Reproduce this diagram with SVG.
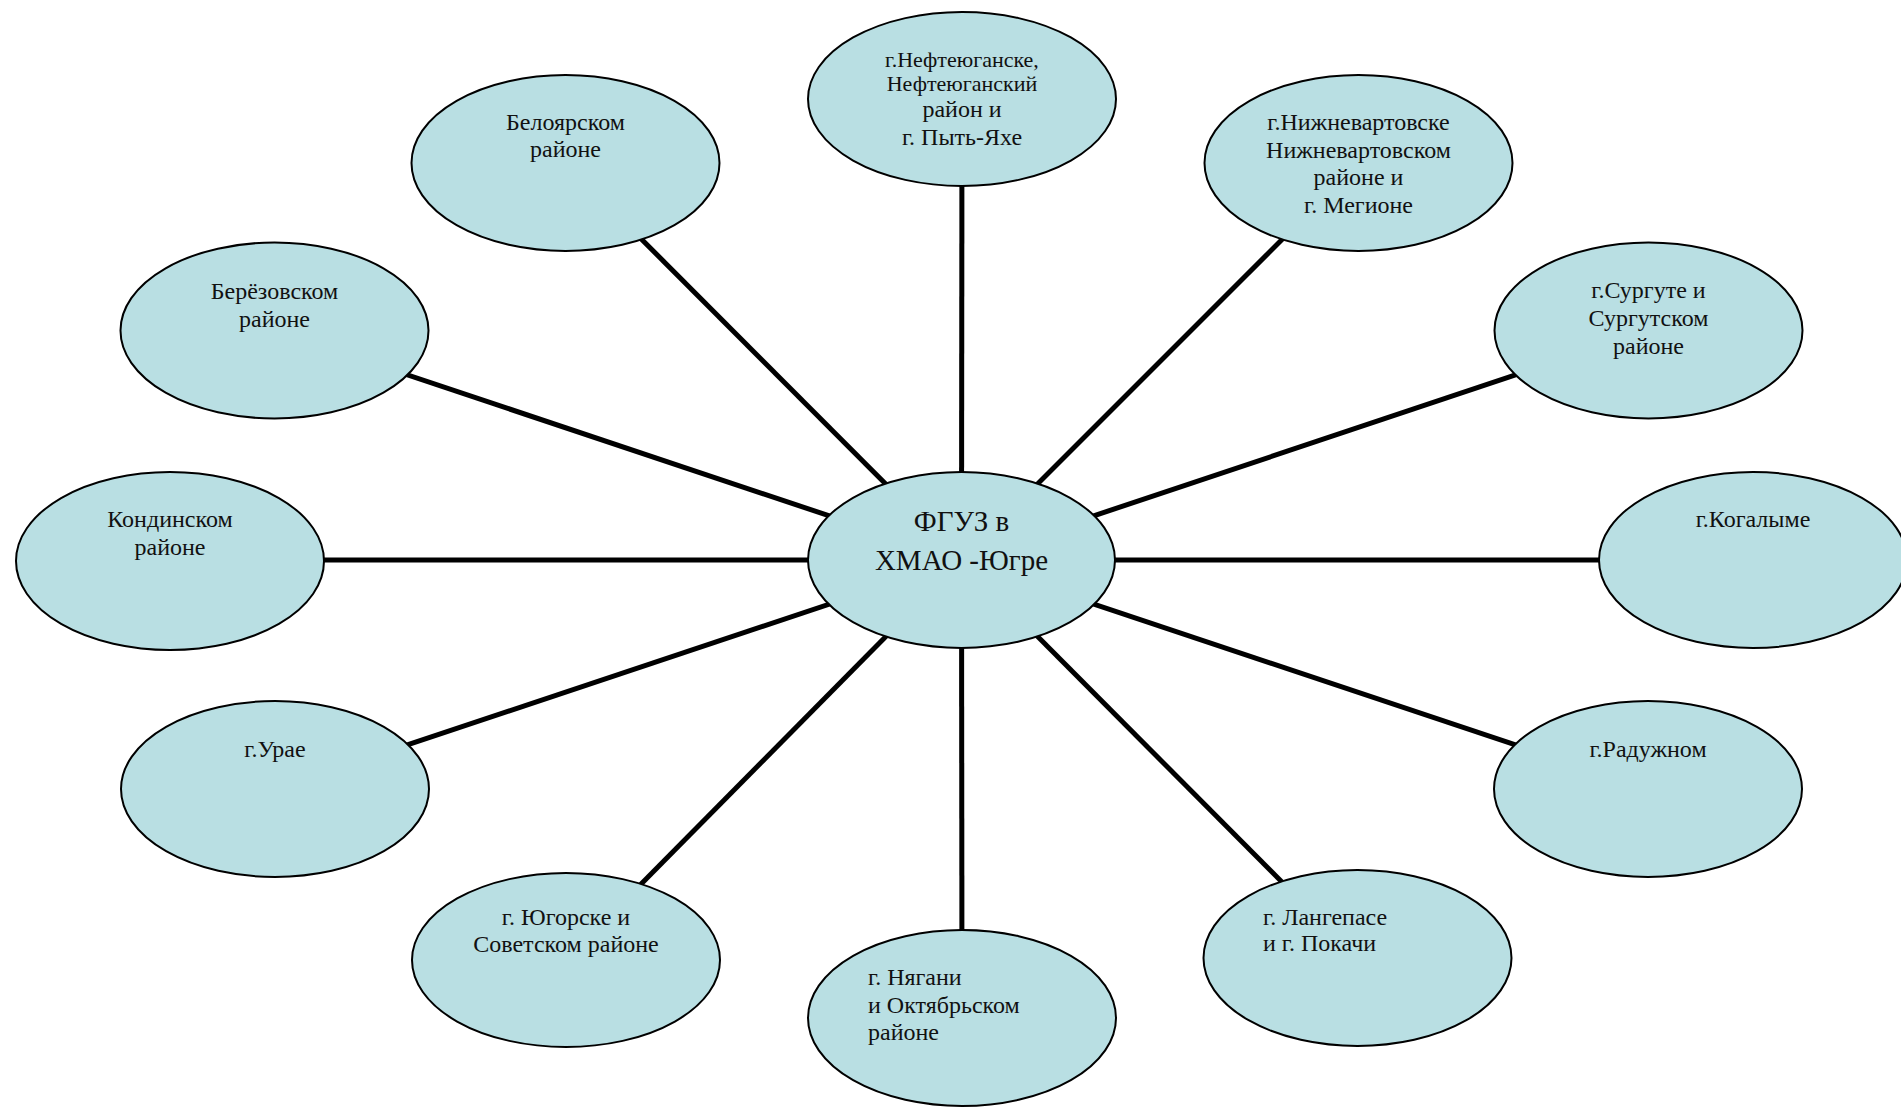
<svg xmlns="http://www.w3.org/2000/svg" width="1901" height="1107" viewBox="0 0 1901 1107">
<style>
.bg{fill:#ffffff}
.conn line{stroke:#000;stroke-width:5;stroke-linecap:butt}
.node ellipse{fill:#b9dfe3;stroke:#000;stroke-width:2}
.lbl{font-family:"Liberation Serif","Times New Roman",serif;font-size:24px;fill:#111;text-anchor:middle}
.lbl.left{text-anchor:start}
.sm{font-size:22px}
.big{font-size:29px}
</style>
<rect class="bg" x="0" y="0" width="1901" height="1107"/>
<g id="connectors" class="conn">
<line x1="961.5" y1="560" x2="962" y2="99"/>
<line x1="961.5" y1="560" x2="565.5" y2="163"/>
<line x1="961.5" y1="560" x2="1358.5" y2="163"/>
<line x1="961.5" y1="560" x2="274.5" y2="330.5"/>
<line x1="961.5" y1="560" x2="1648.5" y2="330.5"/>
<line x1="961.5" y1="560" x2="170" y2="560"/>
<line x1="961.5" y1="560" x2="1753" y2="560"/>
<line x1="961.5" y1="560" x2="275" y2="789"/>
<line x1="961.5" y1="560" x2="1648" y2="789"/>
<line x1="961.5" y1="560" x2="566" y2="960"/>
<line x1="961.5" y1="560" x2="962" y2="1018"/>
<line x1="961.5" y1="560" x2="1357.5" y2="958"/>
</g>
<g id="n-top" class="node">
<ellipse cx="962" cy="99" rx="154" ry="87"/>
<text class="lbl sm" x="962" y="67">г.Нефтеюганске,</text>
<text class="lbl sm" x="962" y="91">Нефтеюганский</text>
<text class="lbl" x="962" y="117">район и</text>
<text class="lbl" x="962" y="145">г. Пыть-Яхе</text>
</g>
<g id="n-beloyarsky" class="node">
<ellipse cx="565.5" cy="163" rx="154" ry="88"/>
<text class="lbl" x="565.5" y="130">Белоярском</text>
<text class="lbl" x="565.5" y="157">районе</text>
</g>
<g id="n-nizhnevartovsk" class="node">
<ellipse cx="1358.5" cy="163" rx="154" ry="88"/>
<text class="lbl" x="1358.5" y="130">г.Нижневартовске</text>
<text class="lbl" x="1358.5" y="158">Нижневартовском</text>
<text class="lbl" x="1358.5" y="185">районе и</text>
<text class="lbl" x="1358.5" y="213">г. Мегионе</text>
</g>
<g id="n-berezovsky" class="node">
<ellipse cx="274.5" cy="330.5" rx="154" ry="88"/>
<text class="lbl" x="274.5" y="299">Берёзовском</text>
<text class="lbl" x="274.5" y="327">районе</text>
</g>
<g id="n-surgut" class="node">
<ellipse cx="1648.5" cy="330.5" rx="154" ry="88"/>
<text class="lbl" x="1648.5" y="298">г.Сургуте и</text>
<text class="lbl" x="1648.5" y="326">Сургутском</text>
<text class="lbl" x="1648.5" y="354">районе</text>
</g>
<g id="n-kondinsk" class="node">
<ellipse cx="170" cy="561" rx="154" ry="89"/>
<text class="lbl" x="170" y="527">Кондинском</text>
<text class="lbl" x="170" y="555">районе</text>
</g>
<g id="n-kogalym" class="node">
<ellipse cx="1753" cy="560" rx="154" ry="88"/>
<text class="lbl" x="1753" y="527">г.Когалыме</text>
</g>
<g id="n-uray" class="node">
<ellipse cx="275" cy="789" rx="154" ry="88"/>
<text class="lbl" x="275" y="757">г.Урае</text>
</g>
<g id="n-raduzhny" class="node">
<ellipse cx="1648" cy="789" rx="154" ry="88"/>
<text class="lbl" x="1648" y="757">г.Радужном</text>
</g>
<g id="n-yugorsk" class="node">
<ellipse cx="566" cy="960" rx="154" ry="87"/>
<text class="lbl" x="566" y="925">г. Югорске и</text>
<text class="lbl" x="566" y="952">Советском районе</text>
</g>
<g id="n-nyagan" class="node">
<ellipse cx="962" cy="1018" rx="154" ry="88"/>
<text class="lbl left" x="868" y="985">г. Нягани</text>
<text class="lbl left" x="868" y="1013">и Октябрьском</text>
<text class="lbl left" x="868" y="1040">районе</text>
</g>
<g id="n-langepas" class="node">
<ellipse cx="1357.5" cy="958" rx="154" ry="88"/>
<text class="lbl left" x="1263" y="925">г. Лангепасе</text>
<text class="lbl left" x="1263" y="951">и г. Покачи</text>
</g>
<g id="n-center" class="node">
<ellipse cx="961.5" cy="560" rx="153.5" ry="88"/>
<text class="lbl big" x="961.5" y="531">ФГУЗ в</text>
<text class="lbl big" x="961.5" y="570">ХМАО -Югре</text>
</g>
</svg>
